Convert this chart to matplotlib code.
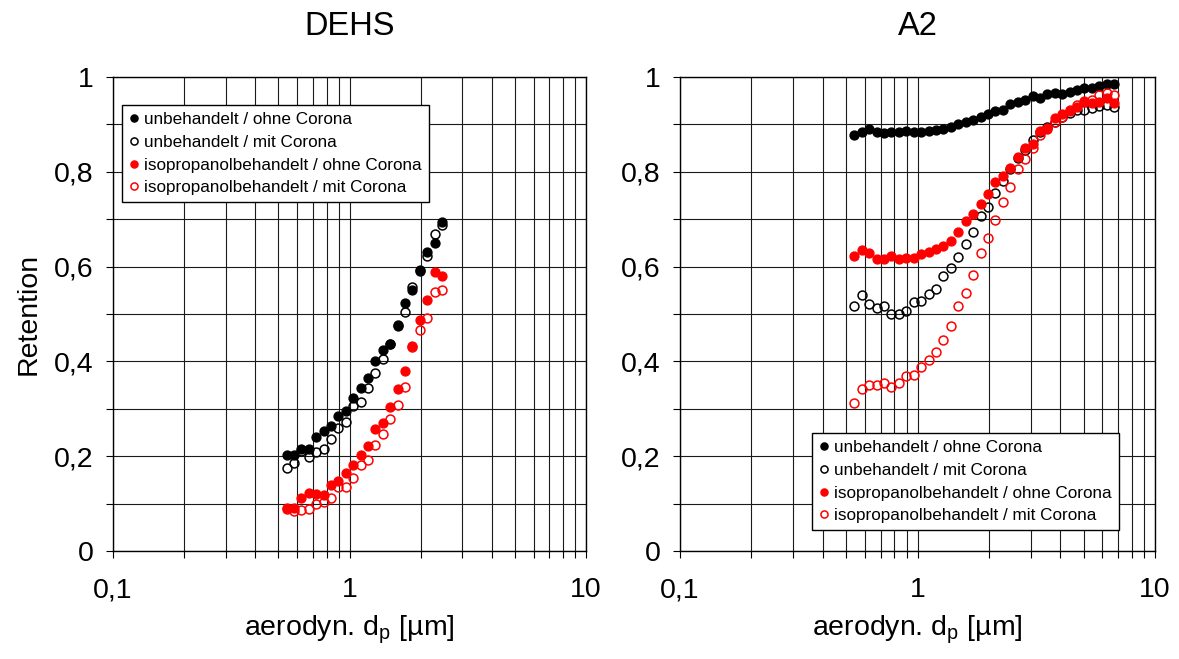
import matplotlib
matplotlib.use("Agg")
import matplotlib.pyplot as plt
from matplotlib.ticker import FixedLocator, LogLocator, FuncFormatter, NullFormatter

plt.rcParams['font.family'] = ['Liberation Sans', 'DejaVu Sans']
plt.rcParams['mathtext.fontset'] = 'custom'
plt.rcParams['mathtext.rm'] = 'Liberation Sans'

# APS channel midpoints (aerodynamic diameter, µm)
dp_dehs = [0.542, 0.583, 0.626, 0.673, 0.723, 0.777, 0.835, 0.898, 0.965, 1.037, 1.114,
           1.197, 1.286, 1.382, 1.486, 1.596, 1.715, 1.843, 1.981, 2.129, 2.288, 2.458]
dp_a2 = [0.542, 0.583, 0.626, 0.673, 0.723, 0.777, 0.835, 0.898, 0.965, 1.037, 1.114,
         1.197, 1.286, 1.382, 1.486, 1.596, 1.715, 1.843, 1.981, 2.129, 2.288, 2.458,
         2.642, 2.839, 3.051, 3.278, 3.523, 3.786, 4.068, 4.371, 4.698, 5.048, 5.425,
         5.829, 6.264, 6.732]

# DEHS
dehs_unb_ohne = [0.202, 0.202, 0.215, 0.215, 0.241, 0.254, 0.264, 0.285, 0.296, 0.323, 0.343,
                 0.365, 0.401, 0.424, 0.436, 0.474, 0.523, 0.550, 0.593, 0.630, 0.649, 0.694]
dehs_unb_mit = [0.175, 0.186, 0.210, 0.198, 0.209, 0.216, 0.237, 0.260, 0.273, 0.305, 0.315,
                0.343, 0.376, 0.406, 0.436, 0.477, 0.505, 0.557, 0.590, 0.623, 0.668, 0.688]
dehs_iso_ohne = [0.091, 0.091, 0.112, 0.122, 0.121, 0.119, 0.140, 0.148, 0.165, 0.181, 0.202,
                 0.222, 0.258, 0.270, 0.304, 0.342, 0.380, 0.432, 0.488, 0.530, 0.588, 0.580]
dehs_iso_mit = [0.089, 0.084, 0.087, 0.089, 0.100, 0.103, 0.112, 0.135, 0.135, 0.153, 0.182,
                0.193, 0.224, 0.247, 0.279, 0.307, 0.346, 0.430, 0.466, 0.491, 0.546, 0.550]

# A2
a2_unb_ohne = [0.878, 0.883, 0.890, 0.885, 0.881, 0.883, 0.884, 0.886, 0.883, 0.885, 0.886,
               0.888, 0.890, 0.895, 0.900, 0.906, 0.910, 0.915, 0.921, 0.928, 0.931, 0.943,
               0.948, 0.951, 0.959, 0.956, 0.964, 0.966, 0.964, 0.969, 0.973, 0.977, 0.977,
               0.980, 0.985, 0.985]
a2_unb_mit = [0.517, 0.540, 0.521, 0.512, 0.517, 0.501, 0.501, 0.506, 0.525, 0.528, 0.542,
              0.552, 0.580, 0.598, 0.621, 0.647, 0.673, 0.706, 0.725, 0.756, 0.780, 0.805,
              0.830, 0.845, 0.867, 0.885, 0.895, 0.905, 0.915, 0.925, 0.930, 0.930, 0.935,
              0.938, 0.940, 0.937]
a2_iso_ohne = [0.622, 0.635, 0.628, 0.616, 0.616, 0.622, 0.617, 0.619, 0.618, 0.626, 0.631,
               0.637, 0.643, 0.654, 0.672, 0.697, 0.710, 0.732, 0.754, 0.779, 0.792, 0.809,
               0.831, 0.850, 0.859, 0.887, 0.892, 0.913, 0.921, 0.928, 0.937, 0.949, 0.945,
               0.948, 0.955, 0.945]
a2_iso_mit = [0.313, 0.341, 0.351, 0.351, 0.355, 0.346, 0.355, 0.369, 0.371, 0.389, 0.402,
              0.419, 0.445, 0.474, 0.516, 0.544, 0.582, 0.629, 0.661, 0.698, 0.737, 0.768,
              0.805, 0.828, 0.850, 0.878, 0.890, 0.905, 0.915, 0.930, 0.940, 0.948, 0.952,
              0.962, 0.966, 0.962]

labels = ['unbehandelt / ohne Corona', 'unbehandelt / mit Corona',
          'isopropanolbehandelt / ohne Corona', 'isopropanolbehandelt / mit Corona']

comma = FuncFormatter(lambda v, p: ('%g' % v).replace('.', ','))

fig = plt.figure(figsize=(11.79, 6.59), dpi=100)
ax1 = fig.add_axes([113 / 1179, 108 / 659, 473 / 1179, 474 / 659])
ax2 = fig.add_axes([680 / 1179, 108 / 659, 475 / 1179, 474 / 659])


def draw(ax, x, series, title):
    ms = 6.4
    ax.plot(x, series[0], 'o', color='black', ms=ms, mec='black', label=labels[0], zorder=3)
    ax.plot(x, series[1], 'o', mfc='none', mec='black', mew=1.1, ms=ms, label=labels[1], zorder=3)
    ax.plot(x, series[2], 'o', color='red', ms=ms, mec='red', label=labels[2], zorder=3)
    ax.plot(x, series[3], 'o', mfc='none', mec='red', mew=1.1, ms=ms, label=labels[3], zorder=3)
    ax.set_xscale('log')
    ax.set_xlim(0.1, 10)
    ax.set_ylim(0, 1)
    ax.xaxis.set_major_locator(FixedLocator([0.1, 1, 10]))
    ax.xaxis.set_minor_locator(LogLocator(base=10, subs=range(2, 10)))
    ax.xaxis.set_minor_formatter(NullFormatter())
    ax.yaxis.set_major_locator(FixedLocator([0, 0.2, 0.4, 0.6, 0.8, 1.0]))
    ax.yaxis.set_minor_locator(FixedLocator([0.1, 0.3, 0.5, 0.7, 0.9]))
    ax.xaxis.set_major_formatter(comma)
    ax.yaxis.set_major_formatter(comma)
    ax.grid(True, which='both', color='#1a1a1a', lw=0.8)
    ax.set_axisbelow(True)
    ax.tick_params(which='both', direction='out', length=5, width=0.8, labelsize=20.5, pad=6)
    ax.tick_params(axis='y', which='major', pad=9)
    ax.tick_params(axis='x', which='major', pad=14)
    for s in ax.spines.values():
        s.set_linewidth(1)
    ax.set_title(title, fontsize=23.5, pad=30)
    ax.set_xlabel('aerodyn. d$_\\mathregular{p}$ [µm]', fontsize=20.5, labelpad=7)


draw(ax1, dp_dehs, [dehs_unb_ohne, dehs_unb_mit, dehs_iso_ohne, dehs_iso_mit], 'DEHS')
draw(ax2, dp_a2, [a2_unb_ohne, a2_unb_mit, a2_iso_ohne, a2_iso_mit], 'A2')
ax1.set_ylabel('Retention', fontsize=20.5, labelpad=9)

leg_kw = dict(fontsize=12.3, markerscale=0.8, handlelength=0.6, handletextpad=0.3,
              borderpad=0.4, labelspacing=0.45, fancybox=False, framealpha=1,
              edgecolor='black', borderaxespad=0)
l1 = ax1.legend(loc='upper left', bbox_to_anchor=(0.019, 0.94), **leg_kw)
l2 = ax2.legend(loc='lower left', bbox_to_anchor=(0.278, 0.044), **leg_kw)
for l in (l1, l2):
    l.get_frame().set_linewidth(1)

fig.savefig('out.png', dpi=100)
